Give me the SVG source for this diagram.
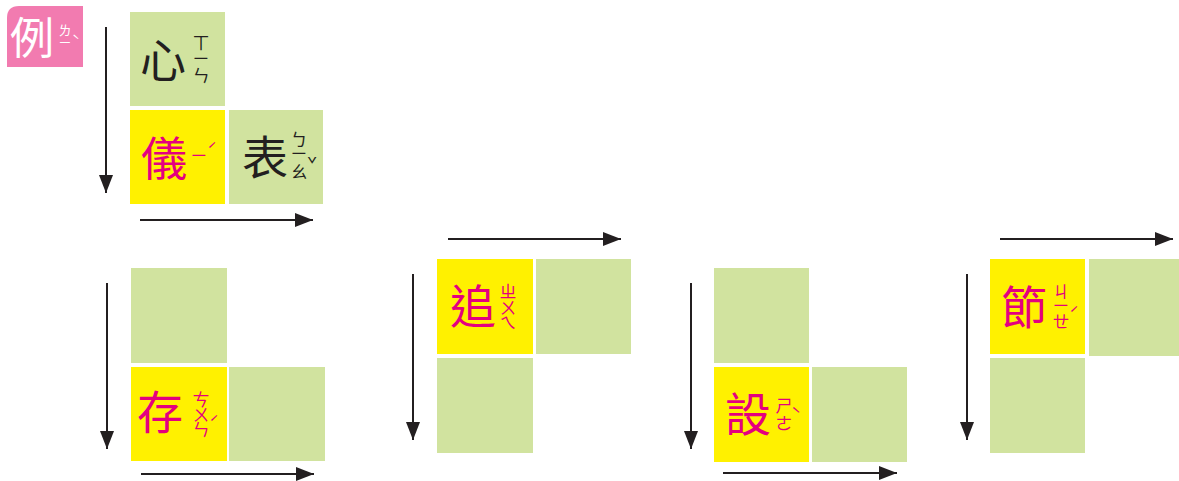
<svg xmlns="http://www.w3.org/2000/svg" width="1179" height="481" viewBox="0 0 1179 481">
<style>
.g{fill:#d1e39f}
.y{fill:#fff100}
.ar{stroke:#231f20;stroke-width:2;fill:none}
.big{font-family:"Noto Sans CJK TC","Noto Sans CJK SC",sans-serif;font-size:46px;text-anchor:middle}
.bp{font-family:"Noto Sans CJK TC","Noto Sans CJK SC",sans-serif;font-size:17px;text-anchor:middle}
.sm{font-family:"Noto Sans CJK TC","Noto Sans CJK SC",sans-serif;font-size:13px;text-anchor:middle}
.k{fill:#231f20}
.p{fill:#e4007f}
.w{fill:#ffffff}
</style>
<defs>
<marker id="ah" markerUnits="userSpaceOnUse" markerWidth="20" markerHeight="14" refX="18" refY="7" orient="auto">
<path d="M0,0 L18,7 L0,14 Z" fill="#231f20"/>
</marker>
</defs>
<rect width="1179" height="481" fill="#ffffff"/>
<g id="badge">
<path d="M19,6 H83 V67 H7 V18 Q7,6 19,6 Z" fill="#f27bb0"/>
<text x="32" y="54" class="w" style="font-family:'Noto Sans CJK TC',sans-serif;font-size:44px;text-anchor:middle">例</text>
<text class="sm w"><tspan x="65" y="35">ㄌ</tspan><tspan x="65" y="47">ㄧ</tspan></text>
<text class="sm w" x="76" y="45">ˋ</text>
</g>
<g id="puzzle-example">
<rect class="g" x="130" y="12" width="95" height="94"/>
<rect class="y" x="130" y="110" width="95" height="94"/>
<rect class="g" x="229" y="110" width="94" height="94"/>
<text class="big k" x="163" y="77">心</text>
<text class="bp k"><tspan x="201" y="49">ㄒ</tspan><tspan x="201" y="65">ㄧ</tspan><tspan x="201" y="82">ㄣ</tspan></text>
<text class="big p" x="164" y="175">儀</text>
<text class="bp p" x="199" y="162">ㄧ</text>
<text class="bp p" x="212" y="157">ˊ</text>
<text class="big k" x="265" y="174">表</text>
<text class="bp k"><tspan x="299" y="146">ㄅ</tspan><tspan x="299" y="160">ㄧ</tspan><tspan x="299" y="178">ㄠ</tspan></text>
<text class="bp k" x="312" y="171">ˇ</text>
</g>
<g id="puzzle-cun">
<rect class="g" x="131" y="268" width="96" height="95"/>
<rect class="y" x="131" y="367" width="96" height="94"/>
<rect class="g" x="229" y="367" width="96" height="94"/>
<text class="big p" x="160" y="429">存</text>
<text class="bp p"><tspan x="201" y="406">ㄘ</tspan><tspan x="201" y="421">ㄨ</tspan><tspan x="201" y="436">ㄣ</tspan></text>
<text class="bp p" x="214" y="430">ˊ</text>
</g>
<g id="puzzle-zhui">
<rect class="y" x="437" y="259" width="96" height="95"/>
<rect class="g" x="536" y="259" width="95" height="95"/>
<rect class="g" x="437" y="358" width="96" height="95"/>
<text class="big p" x="473" y="323">追</text>
<text class="bp p"><tspan x="508" y="298">ㄓ</tspan><tspan x="508" y="314">ㄨ</tspan><tspan x="508" y="329">ㄟ</tspan></text>
</g>
<g id="puzzle-she">
<rect class="g" x="714" y="268" width="95" height="95"/>
<rect class="y" x="714" y="367" width="95" height="95"/>
<rect class="g" x="812" y="367" width="95" height="95"/>
<text class="big p" x="748" y="431">設</text>
<text class="bp p"><tspan x="784" y="412">ㄕ</tspan><tspan x="784" y="430">ㄜ</tspan></text>
<text class="bp p" x="796" y="421">ˋ</text>
</g>
<g id="puzzle-jie">
<rect class="y" x="990" y="259" width="95" height="95"/>
<rect class="g" x="1089" y="259" width="90" height="97"/>
<rect class="g" x="990" y="358" width="95" height="95"/>
<text class="big p" x="1024" y="324">節</text>
<text class="bp p"><tspan x="1061" y="298">ㄐ</tspan><tspan x="1061" y="312">ㄧ</tspan><tspan x="1061" y="328">ㄝ</tspan></text>
<text class="bp p" x="1074" y="321">ˊ</text>
</g>
<g id="connectors">
<line class="ar" x1="106" y1="27" x2="106" y2="193" marker-end="url(#ah)"/>
<line class="ar" x1="140" y1="220" x2="313" y2="220" marker-end="url(#ah)"/>
<line class="ar" x1="107" y1="283" x2="107" y2="449" marker-end="url(#ah)"/>
<line class="ar" x1="141" y1="474" x2="314" y2="474" marker-end="url(#ah)"/>
<line class="ar" x1="448" y1="239" x2="621" y2="239" marker-end="url(#ah)"/>
<line class="ar" x1="413" y1="274" x2="413" y2="440" marker-end="url(#ah)"/>
<line class="ar" x1="691" y1="283" x2="691" y2="449" marker-end="url(#ah)"/>
<line class="ar" x1="723" y1="473" x2="897" y2="473" marker-end="url(#ah)"/>
<line class="ar" x1="1000" y1="239" x2="1173" y2="239" marker-end="url(#ah)"/>
<line class="ar" x1="967" y1="274" x2="967" y2="440" marker-end="url(#ah)"/>
</g>
</svg>
